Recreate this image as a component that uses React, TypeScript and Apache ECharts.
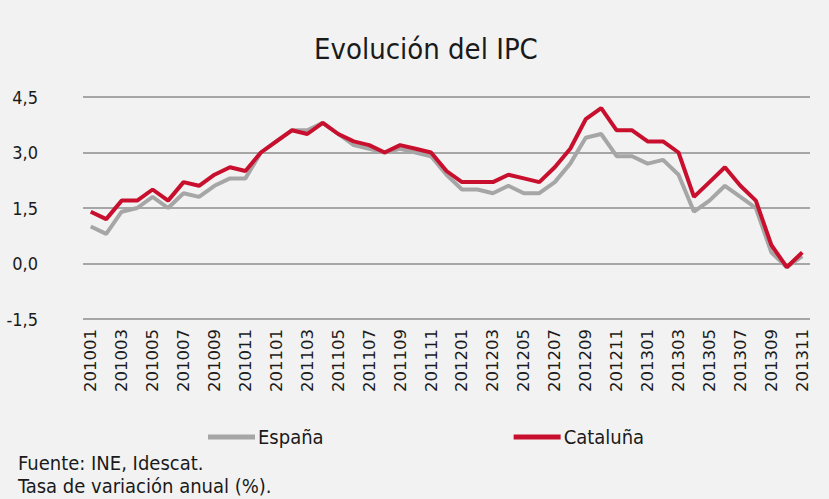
import React, { useEffect, useRef } from "react";
import * as echarts from "echarts";

const months: string[] = [
  "201001","201002","201003","201004","201005","201006","201007","201008","201009","201010","201011","201012",
  "201101","201102","201103","201104","201105","201106","201107","201108","201109","201110","201111","201112",
  "201201","201202","201203","201204","201205","201206","201207","201208","201209","201210","201211","201212",
  "201301","201302","201303","201304","201305","201306","201307","201308","201309","201310","201311",
];

const espana: number[] = [
  1.0, 0.8, 1.4, 1.5, 1.8, 1.5, 1.9, 1.8, 2.1, 2.3, 2.3, 3.0,
  3.3, 3.6, 3.6, 3.8, 3.5, 3.2, 3.1, 3.0, 3.1, 3.0, 2.9, 2.4,
  2.0, 2.0, 1.9, 2.1, 1.9, 1.9, 2.2, 2.7, 3.4, 3.5, 2.9, 2.9,
  2.7, 2.8, 2.4, 1.4, 1.7, 2.1, 1.8, 1.5, 0.3, -0.1, 0.2,
];

const cataluna: number[] = [
  1.4, 1.2, 1.7, 1.7, 2.0, 1.7, 2.2, 2.1, 2.4, 2.6, 2.5, 3.0,
  3.3, 3.6, 3.5, 3.8, 3.5, 3.3, 3.2, 3.0, 3.2, 3.1, 3.0, 2.5,
  2.2, 2.2, 2.2, 2.4, 2.3, 2.2, 2.6, 3.1, 3.9, 4.2, 3.6, 3.6,
  3.3, 3.3, 3.0, 1.8, 2.2, 2.6, 2.1, 1.7, 0.5, -0.1, 0.3,
];

const narrow = "'Liberation Sans Narrow', 'DejaVu Sans Condensed', 'Open Sans', sans-serif";

export default function App() {
  const ref = useRef<HTMLDivElement>(null);
  useEffect(() => {
    if (!ref.current) return;
    const chart = echarts.init(ref.current, null, { renderer: "svg" });
    chart.setOption({
      animation: false,
      backgroundColor: "#f2f2f2",
      title: {
        text: "Evolución del IPC",
        left: 309,
        top: 29,
        textStyle: { fontFamily: narrow, fontSize: 29, fontWeight: "normal", color: "#1a1a1a" },
      },
      grid: { left: 83, right: 19, top: 97, bottom: 180 },
      legend: {
        left: 203,
        top: 422,
        itemWidth: 47,
        itemHeight: 5,
        itemGap: 190,
        icon: "rect",
        textStyle: { fontFamily: narrow, fontSize: 20, color: "#1a1a1a", padding: [0, 0, 0, -2] },
        data: ["España", "Cataluña"],
      },
      xAxis: {
        type: "category",
        data: months,
        boundaryGap: true,
        axisLine: { show: false },
        axisTick: { show: false },
        axisLabel: {
          interval: 1,
          rotate: 90,
          margin: 10,
          fontFamily: "'DejaVu Sans', sans-serif",
          fontSize: 16.5,
          color: "#1a1a1a",
        },
      },
      yAxis: {
        type: "value",
        min: -1.5,
        max: 4.5,
        interval: 1.5,
        axisLine: { show: false },
        axisTick: { show: false },
        splitLine: { lineStyle: { color: "#8c8c8c", width: 1.5 } },
        axisLabel: {
          margin: 45,
          align: "right",
          fontFamily: narrow,
          fontSize: 18,
          color: "#1a1a1a",
          formatter: (v: number) => v.toFixed(1).replace(".", ","),
        },
      },
      series: [
        {
          name: "España",
          type: "line",
          data: espana,
          symbol: "none",
          lineStyle: { color: "#a6a6a6", width: 4 },
          itemStyle: { color: "#a6a6a6" },
          z: 2,
        },
        {
          name: "Cataluña",
          type: "line",
          data: cataluna,
          symbol: "none",
          lineStyle: { color: "#c8102e", width: 4 },
          itemStyle: { color: "#c8102e" },
          z: 3,
        },
      ],
      graphic: [
        {
          type: "text",
          left: 18,
          top: 453,
          style: { text: "Fuente: INE, Idescat.", font: `20px ${narrow}`, fill: "#1a1a1a" },
        },
        {
          type: "text",
          left: 18,
          top: 476,
          style: { text: "Tasa de variación anual (%).", font: `20px ${narrow}`, fill: "#1a1a1a" },
        },
      ],
    });
    return () => chart.dispose();
  }, []);
  return (
    <div
      ref={ref}
      style={{ position: "fixed", left: 0, top: 0, width: 829, height: 499 }}
    />
  );
}
